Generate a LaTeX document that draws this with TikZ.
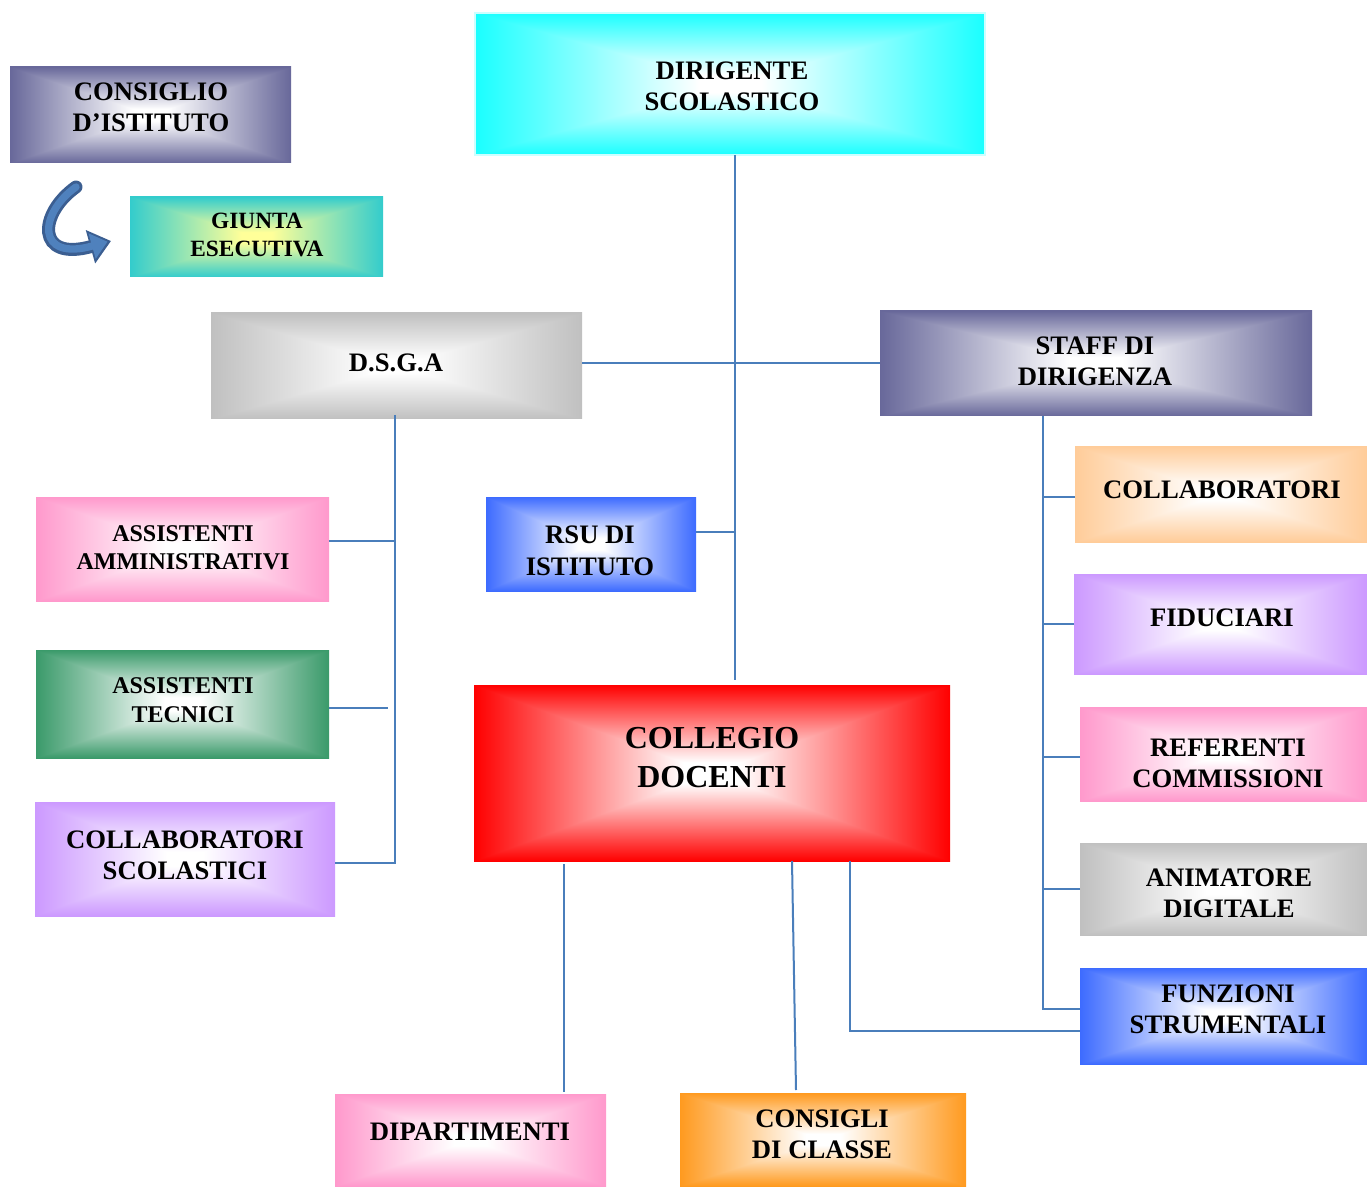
\documentclass[tikz,border=0pt]{standalone}
\usepackage{fontspec}
\setmainfont{Liberation Serif}
\usetikzlibrary{calc,arrows.meta}

\definecolor{lineblue}{HTML}{4A7EBB}
\definecolor{slate}{HTML}{68689A}
\definecolor{turq}{HTML}{33CCCC}
\definecolor{lyellow}{HTML}{FFFF99}
\definecolor{cyanc}{HTML}{1AFFFF}
\definecolor{cyanb}{HTML}{CCFFFF}
\definecolor{silver}{HTML}{C0C0C0}
\definecolor{royal}{HTML}{3D6BFF}
\definecolor{pinkc}{HTML}{FF99CC}
\definecolor{greenc}{HTML}{3A9A6A}
\definecolor{lav}{HTML}{CC99FF}
\definecolor{redc}{HTML}{FF0000}
\definecolor{orangec}{HTML}{FF9A1F}
\definecolor{peach}{HTML}{FFCC99}
\definecolor{arrowdark}{HTML}{3B5E91}
\definecolor{arrowlight}{HTML}{4F81BD}
\colorlet{gin}{white}
\colorlet{gout}{gray}

\pgfdeclarefunctionalshading[gin,gout]{rectgrad}{\pgfpoint{-50bp}{-50bp}}{\pgfpoint{50bp}{50bp}}
{\pgfshadecolortorgb{gin}{\gradin}\pgfshadecolortorgb{gout}{\gradout}}
{abs exch abs 2 copy lt {exch} if pop 25 div
 0.12 sub 0.88 div dup 0 lt {pop 0} if dup 1 gt {pop 1} if
 dup \gradoutred\space \gradinred\space sub mul \gradinred\space add exch
 dup \gradoutgreen\space \gradingreen\space sub mul \gradingreen\space add exch
 \gradoutblue\space \gradinblue\space sub mul \gradinblue\space add}

\tikzset{
  gbox/.style 2 args={rectangle, inner sep=0pt, outer sep=0pt,
    /utils/exec={\colorlet{gin}{#1}\colorlet{gout}{#2}}, shading=rectgrad},
  txt/.style={font=\bfseries\fontsize{20}{23.25}\selectfont, align=center, inner sep=0pt},
  conn/.style={draw=lineblue, line width=1.5pt}
}

\newcommand\orgbox[8][]{\node[gbox={#7}{#8},minimum width={(#5-#3)*0.75pt},minimum height={(#6-#4)*0.75pt},#1] (#2) at ({(#3+#5)/2},{(#4+#6)/2}) {};}
\newcommand\orgtext[5][]{\node[txt,#1] (#2) at (#3,#4) {#5};}

\begin{document}
\begin{tikzpicture}[x=0.75pt,y=-0.75pt]
\useasboundingbox (0,0) rectangle (1367,1187);
\fill[white] (0,0) rectangle (1367,1187);

% boxes
\orgbox{ci}{10}{67}{291}{163}{white}{slate}
\orgbox{ge}{130}{197}{383}{277}{lyellow}{turq}
\orgbox[draw=cyanb,line width=1.5pt]{dir}{475}{13}{985}{155}{white}{cyanc}
\orgbox{dsga}{211}{313}{582}{419}{white}{silver}
\orgbox{staff}{880}{311}{1312}{416}{white}{slate}
\orgbox{rsu}{486}{497}{696}{591}{white}{royal}
\orgbox{aa}{36}{497}{329}{601}{white}{pinkc}
\orgbox{ate}{36}{650}{329}{758}{white}{greenc}
\orgbox{cs}{35}{802}{335}{916}{white}{lav}
\orgbox{col}{474}{685}{950}{861}{white}{redc}
\orgbox{dip}{335}{1094}{606}{1186}{white}{pinkc}
\orgbox{cdc}{680}{1093}{966}{1186}{white}{orangec}
\orgbox{coll}{1075}{446}{1367}{542}{white}{peach}
\orgbox{fid}{1074}{574}{1367}{674}{white}{lav}
\orgbox{ref}{1080}{707}{1367}{801}{white}{pinkc}
\orgbox{anim}{1080}{843}{1367}{935}{white}{silver}
\orgbox{funz}{1080}{968}{1367}{1064}{white}{royal}

% texts
\orgtext{ciT}{151}{107.5}{CONSIGLIO\\D’ISTITUTO}
\orgtext[font=\bfseries\fontsize{17.5}{21}\selectfont]{geT}{257}{235}{GIUNTA\\ESECUTIVA}
\orgtext{dirT}{732}{86.5}{DIRIGENTE\\SCOLASTICO}
\orgtext{dsgaT}{396}{363}{D.S.G.A}
\orgtext{staffT}{1095}{361.5}{STAFF DI\\DIRIGENZA}
\orgtext[font=\bfseries\fontsize{20}{24}\selectfont]{rsuT}{590}{551}{RSU DI\\ISTITUTO}
\orgtext[font=\bfseries\fontsize{18}{21}\selectfont]{aaT}{183}{548}{ASSISTENTI\\AMMINISTRATIVI}
\orgtext[font=\bfseries\fontsize{18}{21.75}\selectfont]{ateT}{183}{700.5}{ASSISTENTI\\TECNICI}
\orgtext{csT}{185}{855.5}{COLLABORATORI\\SCOLASTICI}
\orgtext[font=\bfseries\fontsize{24}{29.25}\selectfont]{colT}{712}{757.5}{COLLEGIO\\DOCENTI}
\orgtext{dipT}{470}{1132}{DIPARTIMENTI}
\orgtext{cdcT}{822}{1134.5}{CONSIGLI\\DI CLASSE}
\orgtext{collT}{1222}{490}{COLLABORATORI}
\orgtext{fidT}{1222}{618}{FIDUCIARI}
\orgtext{refT}{1228}{763.5}{REFERENTI\\COMMISSIONI}
\orgtext{animT}{1229}{893.5}{ANIMATORE\\DIGITALE}
\orgtext{funzT}{1228}{1009.5}{FUNZIONI\\STRUMENTALI}

% curved arrow
\coordinate (a1) at (76,187);
\coordinate (a2) at (111,241);
\coordinate (a3) at (107.5,241.7);
\draw[draw=arrowdark, line width=9.75pt, line cap=round,
  -{Triangle[length=16pt,width=25pt]}] (a1) .. controls (38,214) and (36,262) .. (a2);
\draw[draw=arrowlight, line width=5.5pt, line cap=round,
  -{Triangle[length=12pt,width=19pt]}] (a1) .. controls (38,214) and (36,262) .. (a3);

% connectors
\coordinate (mx) at (735,0);
\draw[conn] (mx |- dir.south) -- ($(mx |- col.north)+(0,-5)$);
\draw[conn] (staff.west) -- (staff.west -| dsga.east);
\draw[conn] ($(rsu.east)+(0,-12)$) -- ($(rsu.east -| mx)+(0,-12)$);

\coordinate (dx) at (395,0);
\coordinate (dxg) at (388,0);
\draw[conn] ($(dx |- dsga.south)+(0,-4)$) |- ($(cs.east)+(0,4)$);
\draw[conn] ($(aa.east)+(0,-8)$) -- ($(aa.east -| dx)+(0,-8)$);
\draw[conn] ($(ate.east)+(0,4)$) -- ($(ate.east -| dxg)+(0,4)$);

\coordinate (sx) at (1043,0);
\draw[conn] (sx |- staff.south) |- ($(funz.west)+(0,-7)$);
\draw[conn] ($(coll.west)+(0,3)$) -- ($(coll.west -| sx)+(0,3)$);
\draw[conn] (fid.west) -- (fid.west -| sx);
\draw[conn] ($(ref.west)+(0,3)$) -- ($(ref.west -| sx)+(0,3)$);
\draw[conn] (anim.west) -- (anim.west -| sx);

\coordinate (fx) at (850,0);
\draw[conn] (fx |- col.south) |- ($(funz.west)+(0,15)$);
\coordinate (px) at (564,0);
\draw[conn] ($(px |- col.south)+(0,3)$) -- ($(px |- dip.north)+(0,-2)$);
\coordinate (q1) at (792,0);
\coordinate (q2) at (796,0);
\draw[conn] (q1 |- col.south) -- ($(q2 |- cdc.north)+(0,-3)$);
\end{tikzpicture}
\end{document}
